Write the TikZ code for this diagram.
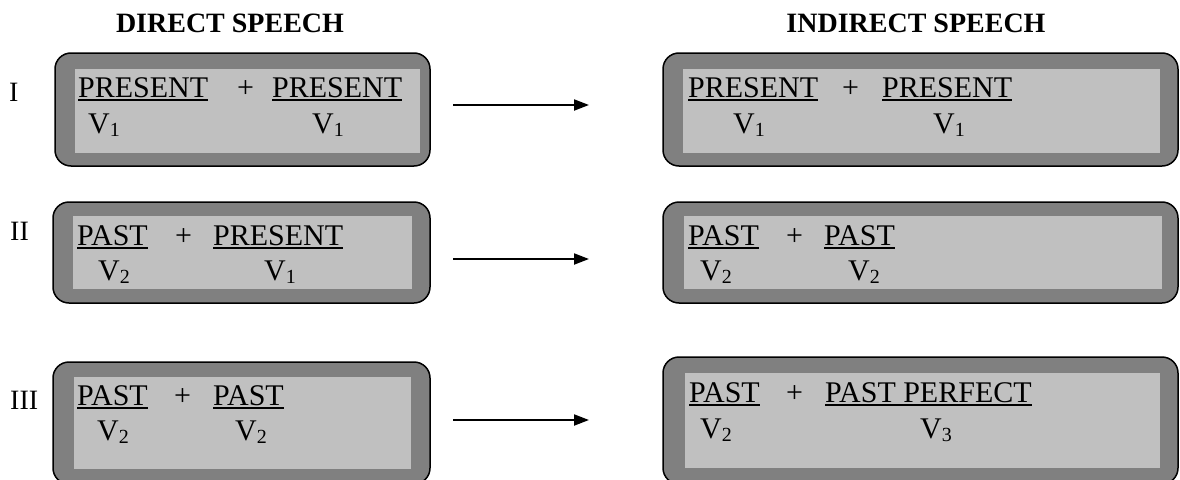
\documentclass[tikz,border=0pt]{standalone}
\usepackage{fontspec}
\setmainfont{Liberation Serif}
\usetikzlibrary{arrows.meta}
\definecolor{outergray}{HTML}{808080}
\definecolor{innergray}{HTML}{C0C0C0}
\newcommand\myul[1]{\setbox0\hbox{#1}\rlap{\rule[-4pt]{\wd0}{1.8pt}}\box0}
\newcommand\vsub[1]{V\raisebox{-3pt}{\fontsize{20}{20}\selectfont #1}}
\begin{document}
\begin{tikzpicture}[x=1pt,y=-1pt,
  outerbox/.style={draw=black,line width=1.5pt,fill=outergray,rounded corners=16pt},
  innerbox/.style={fill=innergray,draw=none},
  txt/.style={anchor=base west,inner sep=0pt,font=\fontsize{30}{30}\selectfont},
  lbl/.style={anchor=base west,inner sep=0pt,font=\fontsize{28}{28}\selectfont},
  hdr/.style={anchor=base,inner sep=0pt,font=\fontsize{28}{28}\selectfont\bfseries},
  arr/.style={line width=2pt,-{Triangle[length=15pt,width=11pt]}}]
\useasboundingbox (0,0) rectangle (1180,479);
\clip (0,0) rectangle (1180,479);
% headers
\node[hdr] (h1) at (230,32) {DIRECT SPEECH};
\node[hdr] (h2) at (916,32) {INDIRECT SPEECH};
% row labels
\node[lbl] (l1) at (9,101) {I};
\node[lbl] (l2) at (10,240) {II};
\node[lbl] (l3) at (10,409) {III};
% boxes row I
\draw[outerbox] (55,53) rectangle (430,166);
\fill[innerbox] (75,69) rectangle (420,153);
\draw[outerbox] (663,53) rectangle (1178,166);
\fill[innerbox] (683,69) rectangle (1160,153);
% boxes row II
\draw[outerbox] (53,202) rectangle (430,303);
\fill[innerbox] (73,216) rectangle (412,289);
\draw[outerbox] (663,202) rectangle (1178,303);
\fill[innerbox] (684,216) rectangle (1162,289);
% boxes row III
\draw[outerbox] (53,362) rectangle (430,484);
\fill[innerbox] (74,377) rectangle (411,469);
\draw[outerbox] (663,357) rectangle (1178,484);
\fill[innerbox] (685,373) rectangle (1160,468);
% row I text
\node[txt] (a1) at (78,97) {\myul{PRESENT}};
\node[txt] (a2) at (237,97) {+};
\node[txt] (a3) at (272,97) {\myul{PRESENT}};
\node[txt] (a4) at (88,133) {\vsub{1}};
\node[txt] (a5) at (312,133) {\vsub{1}};
\node[txt] (b1) at (688,97) {\myul{PRESENT}};
\node[txt] (b2) at (842,97) {+};
\node[txt] (b3) at (882,97) {\myul{PRESENT}};
\node[txt] (b4) at (733,133) {\vsub{1}};
\node[txt] (b5) at (933,133) {\vsub{1}};
% row II text
\node[txt] (c1) at (77,245) {\myul{PAST}};
\node[txt] (c2) at (175,245) {+};
\node[txt] (c3) at (213,245) {\myul{PRESENT}};
\node[txt] (c4) at (98,280) {\vsub{2}};
\node[txt] (c5) at (264,280) {\vsub{1}};
\node[txt] (d1) at (688,245) {\myul{PAST}};
\node[txt] (d2) at (786,245) {+};
\node[txt] (d3) at (824,245) {\myul{PAST}};
\node[txt] (d4) at (700,280) {\vsub{2}};
\node[txt] (d5) at (848,280) {\vsub{2}};
% row III text
\node[txt] (e1) at (77,405) {\myul{PAST}};
\node[txt] (e2) at (174,405) {+};
\node[txt] (e3) at (213,405) {\myul{PAST}};
\node[txt] (e4) at (97,440) {\vsub{2}};
\node[txt] (e5) at (235,440) {\vsub{2}};
\node[txt] (f1) at (689,402) {\myul{PAST}};
\node[txt] (f2) at (786,402) {+};
\node[txt] (f3) at (825,402) {\myul{PAST PERFECT}};
\node[txt] (f4) at (700,438) {\vsub{2}};
\node[txt] (f5) at (920,438) {\vsub{3}};
% arrows
\coordinate (s1) at (453,105); \coordinate (t1) at (589,105);
\coordinate (s2) at (453,259); \coordinate (t2) at (589,259);
\coordinate (s3) at (453,420); \coordinate (t3) at (589,420);
\draw[arr] (s1) -- (t1);
\draw[arr] (s2) -- (t2);
\draw[arr] (s3) -- (t3);
\end{tikzpicture}
\end{document}
